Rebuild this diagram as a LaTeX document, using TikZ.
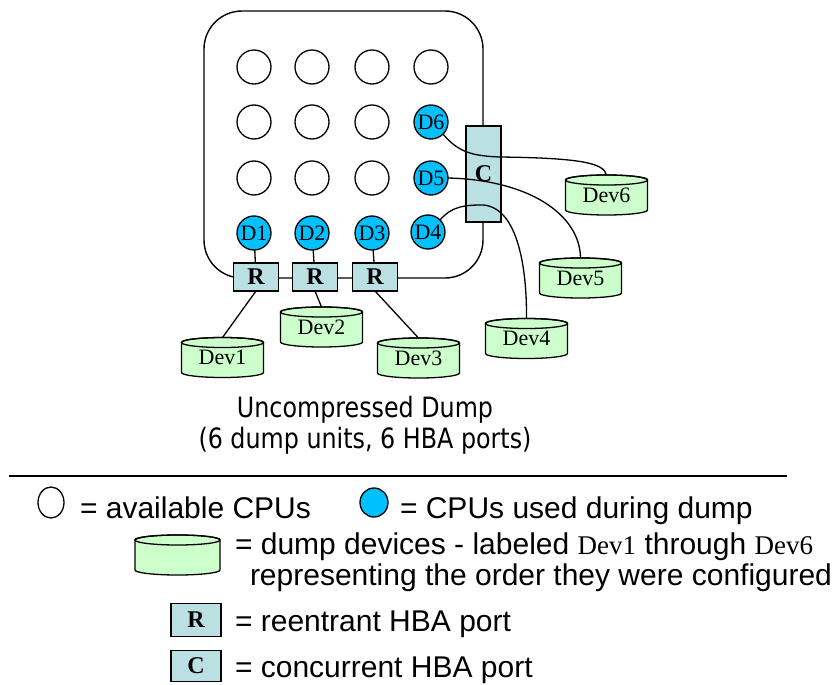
\documentclass[tikz,border=0pt]{standalone}
\usepackage{fontspec}
\setmainfont{Liberation Serif}
\newfontfamily\legfont{Liberation Sans}
\newfontfamily\capfont[FakeStretch=0.85]{DejaVu Sans}
\usetikzlibrary{shapes.geometric}
\pgfdeclarelayer{background}
\pgfsetlayers{background,main}

\definecolor{cpublue}{RGB}{0,192,255}
\definecolor{portfill}{RGB}{186,224,228}
\definecolor{devfill}{RGB}{204,255,204}

\begin{document}
\begin{tikzpicture}[x=1pt,y=-1pt,
  every node/.style={inner sep=0pt, outer sep=0pt},
  cpu/.style={circle, draw, line width=1.3pt, minimum size=34pt},
  used/.style={cpu, fill=cpublue, font=\fontsize{22}{24}\selectfont},
  port/.style={rectangle, draw, line width=1.3pt, fill=portfill,
    font=\bfseries\fontsize{24}{26}\selectfont},
  dev/.style={rectangle, minimum width=82pt, minimum height=40pt,
    font=\fontsize{22}{24}\selectfont,
    execute at begin node={\lower3pt\hbox\bgroup},
    execute at end node={\egroup}},
  wire/.style={line width=1.3pt},
  legtext/.style={anchor=base west, font=\legfont\fontsize{30}{34}\selectfont},
  captext/.style={anchor=base, font=\capfont\fontsize{28}{31}\selectfont},
]
\useasboundingbox (0,0) rectangle (836,685);

% CPU grid: free CPUs
\foreach \cx/\i in {254/1,312/2,372/3,431/4}
  \node[cpu] (ra\i) at (\cx,67) {};
\foreach \cx/\i in {254/1,312/2,372/3}{
  \node[cpu] (rb\i) at (\cx,122) {};
  \node[cpu] (rc\i) at (\cx,178) {};
}
% CPUs running dump units
\node[used] (D6) at (431,122) {D6};
\node[used] (D5) at (431,178) {D5};
\node[used] (D1) at (254,233) {D1};
\node[used] (D2) at (312,233) {D2};
\node[used] (D3) at (372,233) {D3};
\node[used] (D4) at (428,232) {D4};

% HBA ports
\node[port, minimum width=45pt, minimum height=28pt] (R1) at (256,277) {R};
\node[port, minimum width=45pt, minimum height=28pt] (R2) at (315,277) {R};
\node[port, minimum width=45pt, minimum height=28pt] (R3) at (375,277) {R};
\node[port, minimum width=35pt, minimum height=96pt] (C) at (483.5,174) {C};

% dump devices
\node[dev] (Dev1) at (222.5,357.5) {Dev1};
\node[dev] (Dev2) at (321.5,327) {Dev2};
\node[dev] (Dev3) at (418.5,358) {Dev3};
\node[dev] (Dev4) at (526.5,338.5) {Dev4};
\node[dev] (Dev5) at (580.5,278) {Dev5};
\node[dev] (Dev6) at (606.5,195) {Dev6};

% connections
\draw[wire] (D1) -- (R1);
\draw[wire] (D2) -- (R2);
\draw[wire] (D3) -- (R3);
\draw[wire] (R1.south) -- (Dev1.north);
\draw[wire] (R2.south) -- (Dev2.north);
\draw[wire] (R3.south) -- (Dev3.north);
\draw[wire] (D6.south east) .. controls (458,152) and (472,156) .. (500,157)
  .. controls (580,158) and (604,163) .. (Dev6.north);
\draw[wire] (D5.east) .. controls (530,180) and (580,215) .. (Dev5.north);
\draw[wire] (D4.north east) .. controls (452,206) and (465,205) .. (483,205)
  .. controls (515,207) and (527,260) .. (Dev4.north);

% caption
\node[captext] (cap1) at (365,417) {Uncompressed Dump};
\node[captext] (cap2) at (365,448) {(6 dump units, 6 HBA ports)};

% legend
\coordinate (ruleL) at (9,476);
\coordinate (ruleR) at (787,476);
\draw[line width=1.5pt] (ruleL) -- (ruleR);

\node[ellipse, draw, line width=1.3pt, minimum width=26pt, minimum height=31pt]
  (legfree) at (51,502.5) {};
\node[legtext] (legfreetxt) at (80,518) {= available CPUs};
\node[ellipse, draw, fill=cpublue, line width=1.3pt, minimum width=28pt,
  minimum height=29pt] (legused) at (374,502.5) {};
\node[legtext] (legusedtxt) at (400,518) {= CPUs used during dump};

\node[dev, minimum width=85pt] (legdev) at (177.5,555) {};
\node[legtext] (legdevtxt) at (235,554) {= dump devices - labeled
  {\rmfamily\fontsize{27}{30}\selectfont Dev1} through
  {\rmfamily\fontsize{27}{30}\selectfont Dev6}};
\node[legtext] (legdevtxt2) at (250,585) {representing the order they were configured};

\node[port, minimum width=50pt, minimum height=33pt] (legR) at (196,620) {R};
\node[legtext] (legRtxt) at (235,631) {= reentrant HBA port};
\node[port, minimum width=50pt, minimum height=31pt] (legC) at (196,666) {C};
\node[legtext] (legCtxt) at (235,677) {= concurrent HBA port};

% enclosure and device bodies behind everything
\begin{pgfonlayer}{background}
  \draw[line width=1.4pt, rounded corners=38pt] (204,11) rectangle (483,278);
  \foreach \d/\r in {Dev1/41,Dev2/41,Dev3/41,Dev4/41,Dev5/41,Dev6/41,legdev/42.5}{
    \path[draw, fill=devfill, line width=1.3pt]
      ([yshift=-5pt]\d.north west) -- ([yshift=5pt]\d.south west)
      arc[start angle=180, end angle=360, x radius=\r pt, y radius=5pt]
      -- ([yshift=-5pt]\d.north east)
      arc[start angle=0, end angle=180, x radius=\r pt, y radius=5pt] -- cycle;
    \draw[line width=1.3pt] ([yshift=-5pt]\d.north) ellipse [x radius=\r pt, y radius=5pt];
  }
\end{pgfonlayer}
\end{tikzpicture}
\end{document}
